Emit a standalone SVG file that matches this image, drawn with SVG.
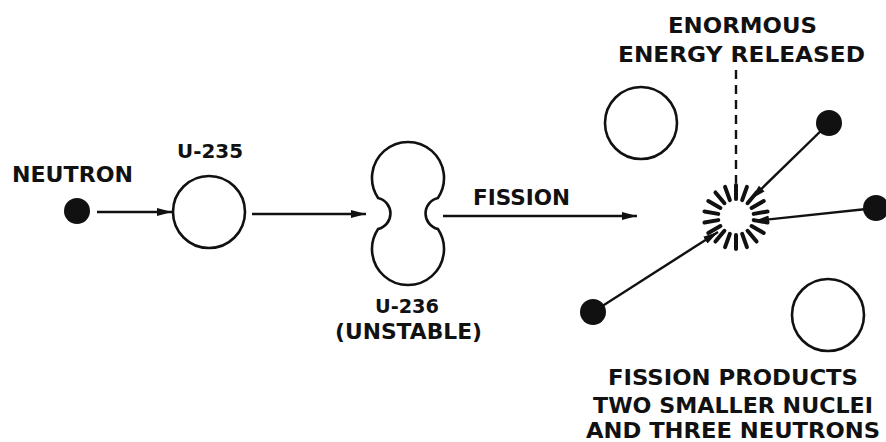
<svg xmlns="http://www.w3.org/2000/svg" width="886" height="442" viewBox="0 0 886 442">
<style>
text{font-family:"DejaVu Sans","Liberation Sans",Arial,sans-serif;font-weight:bold;font-size:22px;fill:#111}
.s20{font-size:20px}
.s21{font-size:21px}
.ring{fill:none;stroke:#111;stroke-width:2.6}
.dot{fill:#111}
.ln{stroke:#111;stroke-width:2.4;fill:none}
.dash{stroke:#111;stroke-width:4;stroke-linecap:round}
</style>
<defs>
<marker id="ah" markerUnits="userSpaceOnUse" markerWidth="16" markerHeight="10" refX="15" refY="5" orient="auto">
<path d="M0,1 L15,5 L0,9 Z" fill="#111"/>
</marker>
</defs>
<rect width="886" height="442" fill="#fff"/>
<g id="connectors">
<line class="ln" x1="97" y1="212" x2="172" y2="212" marker-end="url(#ah)"/>
<line class="ln" x1="252" y1="214" x2="366" y2="214" marker-end="url(#ah)"/>
<line class="ln" x1="443" y1="216" x2="637" y2="216" marker-end="url(#ah)"/>
<line class="ln" x1="736" y1="70" x2="736" y2="183" stroke-dasharray="9,6"/>
<line class="ln" x1="829" y1="123" x2="751" y2="199" marker-end="url(#ah)"/>
<line class="ln" x1="876" y1="208" x2="754" y2="221" marker-end="url(#ah)"/>
<line class="ln" x1="593" y1="312" x2="718" y2="232" marker-end="url(#ah)"/>
</g>
<g id="neutron">
<circle class="dot" cx="77" cy="211" r="13"/>
<text x="12" y="182" textLength="121" lengthAdjust="spacingAndGlyphs">NEUTRON</text>
</g>
<g id="u235">
<circle class="ring" cx="209" cy="212" r="36"/>
<text class="s20" x="177" y="158" textLength="66" lengthAdjust="spacingAndGlyphs">U-235</text>
</g>
<g id="u236">
<path class="ring" d="M378.1,198 A36,36 0 1 1 437.9,198 A15.9,15.9 0 0 0 437.9,229 A36,36 0 1 1 378.1,229 A15.9,15.9 0 0 0 378.1,198 Z"/>
<text class="s20" x="375" y="313" textLength="64" lengthAdjust="spacingAndGlyphs">U-236</text>
<text class="s21" x="335" y="339" textLength="147" lengthAdjust="spacingAndGlyphs">(UNSTABLE)</text>
</g>
<g id="fission-label">
<text class="s21" x="473" y="205" textLength="97" lengthAdjust="spacingAndGlyphs">FISSION</text>
</g>
<g id="energy">
<text x="668" y="33" textLength="149" lengthAdjust="spacingAndGlyphs">ENORMOUS</text>
<text x="618" y="62" textLength="247" lengthAdjust="spacingAndGlyphs">ENERGY RELEASED</text>
</g>
<g id="burst" transform="translate(736,217)">
<line class="dash" x1="0" y1="-18" x2="0" y2="-32"/>
<line class="dash" x1="0" y1="-18" x2="0" y2="-32" transform="rotate(20)"/>
<line class="dash" x1="0" y1="-18" x2="0" y2="-32" transform="rotate(40)"/>
<line class="dash" x1="0" y1="-18" x2="0" y2="-32" transform="rotate(60)"/>
<line class="dash" x1="0" y1="-18" x2="0" y2="-32" transform="rotate(80)"/>
<line class="dash" x1="0" y1="-18" x2="0" y2="-32" transform="rotate(100)"/>
<line class="dash" x1="0" y1="-18" x2="0" y2="-32" transform="rotate(120)"/>
<line class="dash" x1="0" y1="-18" x2="0" y2="-32" transform="rotate(140)"/>
<line class="dash" x1="0" y1="-18" x2="0" y2="-32" transform="rotate(160)"/>
<line class="dash" x1="0" y1="-18" x2="0" y2="-32" transform="rotate(180)"/>
<line class="dash" x1="0" y1="-18" x2="0" y2="-32" transform="rotate(200)"/>
<line class="dash" x1="0" y1="-18" x2="0" y2="-32" transform="rotate(220)"/>
<line class="dash" x1="0" y1="-18" x2="0" y2="-32" transform="rotate(240)"/>
<line class="dash" x1="0" y1="-18" x2="0" y2="-32" transform="rotate(260)"/>
<line class="dash" x1="0" y1="-18" x2="0" y2="-32" transform="rotate(280)"/>
<line class="dash" x1="0" y1="-18" x2="0" y2="-32" transform="rotate(300)"/>
<line class="dash" x1="0" y1="-18" x2="0" y2="-32" transform="rotate(320)"/>
<line class="dash" x1="0" y1="-18" x2="0" y2="-32" transform="rotate(340)"/>
</g>
<g id="nucleus-upper"><circle class="ring" cx="641" cy="123" r="36"/></g>
<g id="nucleus-lower"><circle class="ring" cx="828" cy="315" r="36"/></g>
<g id="neutron-top"><circle class="dot" cx="829" cy="123" r="13"/></g>
<g id="neutron-right"><circle class="dot" cx="876" cy="208" r="13"/></g>
<g id="neutron-left"><circle class="dot" cx="593" cy="312" r="13"/></g>
<g id="products">
<text x="608" y="385" textLength="250" lengthAdjust="spacingAndGlyphs">FISSION PRODUCTS</text>
<text x="593" y="413" textLength="280" lengthAdjust="spacingAndGlyphs">TWO SMALLER NUCLEI</text>
<text x="586" y="438" textLength="294" lengthAdjust="spacingAndGlyphs">AND THREE NEUTRONS</text>
</g>
</svg>
